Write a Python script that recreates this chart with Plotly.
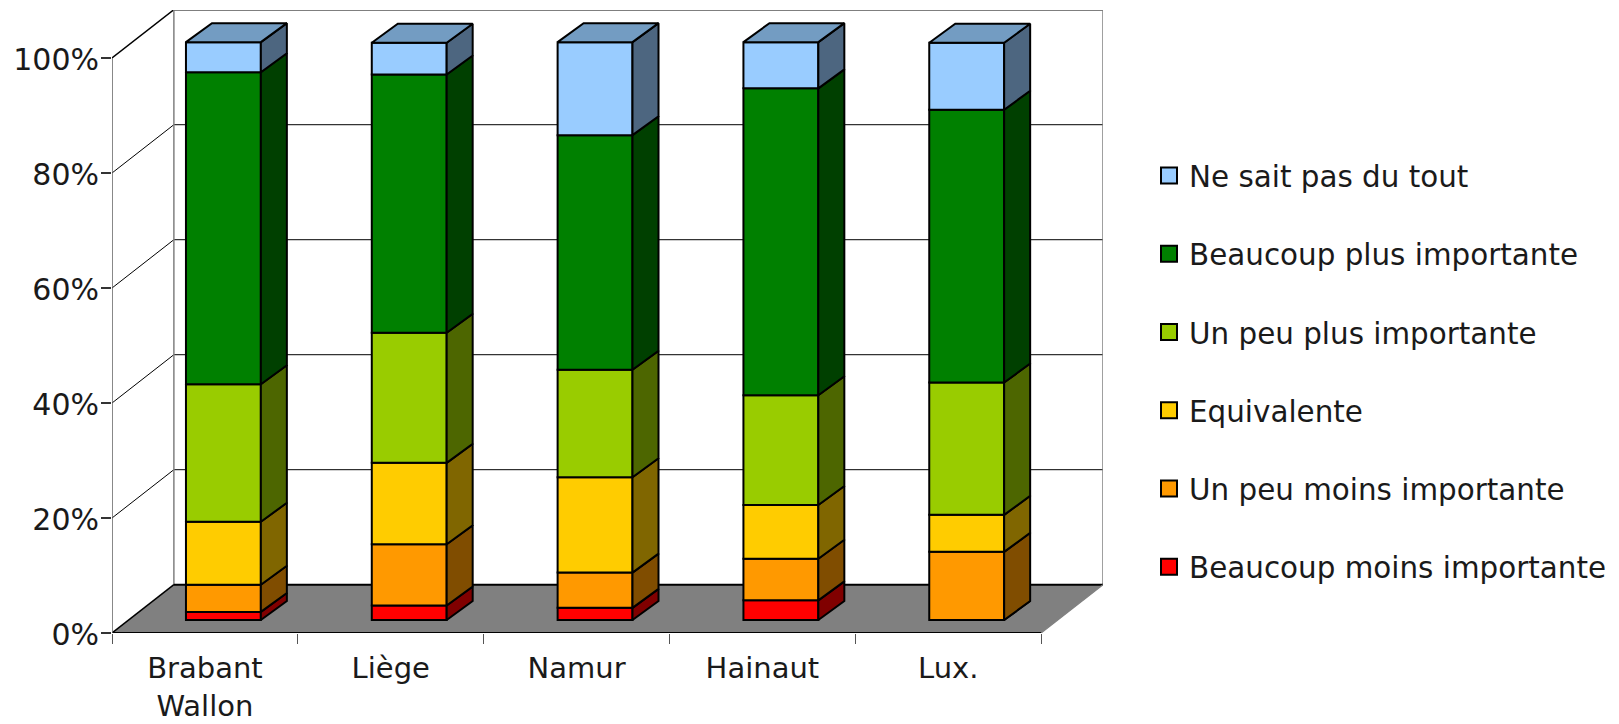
import plotly.graph_objects as go

categories = ["Brabant<br>Wallon", "Liège", "Namur", "Hainaut", "Lux."]
series_names = ["Beaucoup moins importante", "Un peu moins importante", "Equivalente",
                "Un peu plus importante", "Beaucoup plus importante", "Ne sait pas du tout"]
beaucoup_moins = [1.4, 2.5, 2.1, 3.4, 0.0]
peu_moins = [4.7, 10.6, 6.1, 7.2, 11.8]
equivalente = [10.9, 14.1, 16.5, 9.3, 6.4]
peu_plus = [23.8, 22.5, 18.6, 19.0, 22.9]
beaucoup_plus = [54.0, 44.7, 40.6, 53.1, 47.2]
ne_sait_pas = [5.2, 5.5, 16.1, 8.0, 11.6]
series_values = [beaucoup_moins, peu_moins, equivalente, peu_plus, beaucoup_plus, ne_sait_pas]

front_colors = ["#FF0000", "#FF9900", "#FFCC00", "#99CC00", "#008000", "#99CCFF"]
side_colors = ["#800000", "#804D00", "#806600", "#4D6600", "#004000", "#4D6680"]
top_color = "#739CC2"
FONT = "DejaVu Sans"

# oblique-projection constants in axis units
WALL_DX, WALL_DY = 0.333, 8.4
BAR_SHIFT, BAR_WIDTH = 0.0995, 0.403
BAR_BASE, BAR_SCALE = 2.26, 1.005
BAR_DX, BAR_DY = 0.14, 3.3
XMIN, XMAX_FRONT = -0.5, 4.5

fig = go.Figure()
n = len(categories)
centers = [i + BAR_SHIFT for i in range(n)]
cum = [0.0] * n
for name, vals, fc, sc in zip(series_names, series_values, front_colors, side_colors):
    fig.add_trace(go.Bar(
        x=centers, y=[v * BAR_SCALE for v in vals],
        base=[BAR_BASE + c * BAR_SCALE for c in cum],
        width=BAR_WIDTH, marker=dict(color=fc, line=dict(color="black", width=2)),
        showlegend=False, name=name))
    for i in range(n):
        x1 = centers[i] + BAR_WIDTH / 2
        y0 = BAR_BASE + cum[i] * BAR_SCALE
        y1 = y0 + vals[i] * BAR_SCALE
        fig.add_trace(go.Scatter(
            x=[x1, x1 + BAR_DX, x1 + BAR_DX, x1, x1],
            y=[y0, y0 + BAR_DY, y1 + BAR_DY, y1, y0],
            mode="lines", fill="toself", fillcolor=sc,
            line=dict(color="black", width=2), showlegend=False, hoverinfo="skip"))
    cum = [c + v for c, v in zip(cum, vals)]

for i in range(n):
    x0 = centers[i] - BAR_WIDTH / 2
    x1 = centers[i] + BAR_WIDTH / 2
    y = BAR_BASE + cum[i] * BAR_SCALE
    fig.add_trace(go.Scatter(
        x=[x0, x1, x1 + BAR_DX, x0 + BAR_DX, x0],
        y=[y, y, y + BAR_DY, y + BAR_DY, y],
        mode="lines", fill="toself", fillcolor=top_color,
        line=dict(color="black", width=2), showlegend=False, hoverinfo="skip"))

# legend-only keys, top entry first
for name, fc in reversed(list(zip(series_names, front_colors))):
    fig.add_trace(go.Scatter(
        x=[None], y=[None], mode="markers", name=name, legendgroup=name,
        marker=dict(symbol="square", size=16, color=fc, line=dict(color="black", width=2))))

shapes = []
def poly(pts, fill=None, color="black", width=1.5):
    path = "M " + " L ".join(f"{x},{y}" for x, y in pts) + " Z"
    shapes.append(dict(type="path", path=path, xref="x", yref="y", layer="below",
                       fillcolor=fill if fill else "rgba(0,0,0,0)",
                       line=dict(color=color, width=width)))
def seg(x0, y0, x1, y1, color="black", width=1.0):
    shapes.append(dict(type="line", x0=x0, y0=y0, x1=x1, y1=y1, xref="x", yref="y",
                       layer="below", line=dict(color=color, width=width)))

bx0, bx1 = XMIN + WALL_DX, XMAX_FRONT + WALL_DX
poly([(bx0, WALL_DY), (bx1, WALL_DY), (bx1, 100 + WALL_DY), (bx0, 100 + WALL_DY)], fill="white", color="rgba(0,0,0,0)")
poly([(XMIN, 0), (XMAX_FRONT, 0), (bx1, WALL_DY), (bx0, WALL_DY)], fill="#808080", color="rgba(0,0,0,0)")
for v in [20, 40, 60, 80]:
    seg(XMIN, v, bx0, v + WALL_DY)
    seg(bx0, v + WALL_DY, bx1, v + WALL_DY)
seg(XMIN, 100, bx0, 100 + WALL_DY, width=1.5)
seg(bx0, 100 + WALL_DY, bx1, 100 + WALL_DY, width=1.5)
seg(bx1, 100 + WALL_DY, bx1, WALL_DY, color="#808080", width=1.5)
seg(bx0, 100 + WALL_DY, bx0, WALL_DY, color="#808080", width=1.5)
seg(XMIN, 0, bx0, WALL_DY, width=1.5)
seg(bx0, WALL_DY, bx1, WALL_DY, width=2)
seg(XMAX_FRONT, 0, bx1, WALL_DY, color="#808080", width=1.2)
seg(XMIN, 0, XMAX_FRONT, 0, width=1.8)
seg(XMIN, 0, XMIN, 100, color="#606060", width=1.5)

fig.update_layout(
    width=1611, height=716, autosize=False, barmode="overlay",
    margin=dict(l=104, r=516, t=2, b=91, autoexpand=False),
    paper_bgcolor="white", plot_bgcolor="rgba(0,0,0,0)",
    font=dict(family=FONT, size=29, color="#1a1a1a"),
    shapes=shapes,
    legend=dict(x=(1149 - 112) / 991, xanchor="left", y=1 - (150 - 10) / 623, yanchor="top",
                traceorder="grouped", tracegroupgap=37, itemsizing="trace",
                font=dict(family=FONT, size=29.4), bgcolor="rgba(0,0,0,0)"),
    xaxis=dict(range=[XMIN, XMAX_FRONT + WALL_DX], tickmode="array", automargin=False,
               tickvals=list(range(n)), ticktext=categories,
               ticks="", showgrid=False, zeroline=False, showline=False, ticklabelstandoff=15,
               minor=dict(tickmode="array", tickvals=[i - 0.5 for i in range(n + 1)],
                          ticks="outside", ticklen=10, tickwidth=1.2, tickcolor="#555555", showgrid=False),
               tickfont=dict(size=29)),
    yaxis=dict(range=[0, 108.35], tickmode="array", tickvals=[0, 20, 40, 60, 80, 100], automargin=False,
               ticktext=["0%", "20%", "40%", "60%", "80%", "100%"],
               ticks="outside", ticklen=10, tickwidth=1.5, tickcolor="#333333",
               ticklabelstandoff=-4, ticklabelshift=1,
               showgrid=False, zeroline=False, showline=False, tickfont=dict(size=30)),
)
fig.write_html("out.html", config={"displayModeBar": False})
